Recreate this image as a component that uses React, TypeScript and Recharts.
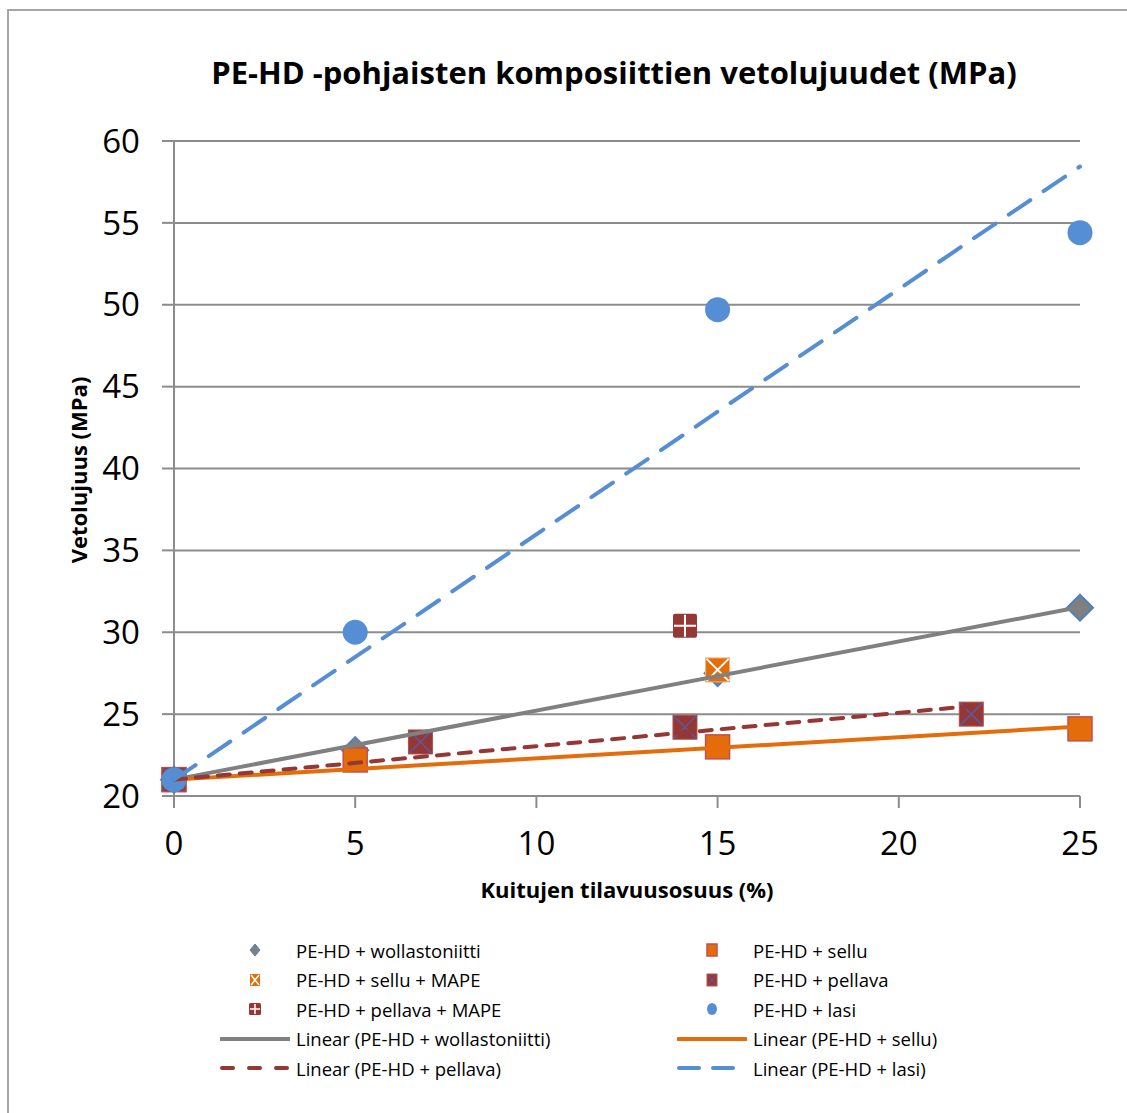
import { ComposedChart, Scatter, XAxis, YAxis, CartesianGrid } from 'recharts';

// fibre volume fraction (%) and tensile strength (MPa) per composite
const wollX = [0, 5, 15, 25];
const wollY = [21, 22.8, 27.5, 31.5];
const selluX = [0, 5, 15, 25];
const selluY = [21, 22.2, 23.0, 24.1];
const selluMapeX = [15];
const selluMapeY = [27.7];
const pellavaX = [0, 6.8, 14.1, 22];
const pellavaY = [21, 23.3, 24.2, 25.0];
const pellavaMapeX = [14.1];
const pellavaMapeY = [30.4];
const lasiX = [0, 5, 15, 25];
const lasiY = [21, 30.0, 49.7, 54.4];

const xTicks = [0, 5, 10, 15, 20, 25];
const yTicks = [20, 25, 30, 35, 40, 45, 50, 55, 60];

const pts = (xs: number[], ys: number[]) => xs.map((x, i) => ({ x, y: ys[i] }));

// Excel-style linear trendline with intercept set to the unfilled PE-HD value
const trend = (xs: number[], ys: number[]) => {
  const b = ys[0];
  let num = 0;
  let den = 0;
  xs.forEach((x, i) => {
    num += x * (ys[i] - b);
    den += x * x;
  });
  const k = num / den;
  const xMax = Math.max(...xs);
  return [
    { x: 0, y: b },
    { x: xMax, y: b + k * xMax },
  ];
};

const GRAY = '#808080';
const ORANGE = '#e46c0a';
const RED = '#953735';
const BLUE = '#558ed5';
const FONT = '"Open Sans", "Liberation Sans", sans-serif';

const Diamond = (p: any) => (
  <polygon
    points={`${p.cx},${p.cy - 13} ${p.cx + 13},${p.cy} ${p.cx},${p.cy + 13} ${p.cx - 13},${p.cy}`}
    fill='#7f7f7f'
    stroke='#4f81bd'
    strokeWidth={2}
  />
);

const SelluSq = (p: any) => (
  <rect x={p.cx - 12} y={p.cy - 12} width={24} height={24} fill={ORANGE} stroke='#c0504d' strokeWidth={1.5} />
);

const SelluMape = (p: any) => (
  <g>
    <rect x={p.cx - 12} y={p.cy - 12} width={24} height={24} fill={ORANGE} stroke='#f5b37a' strokeWidth={1} />
    <path
      d={`M${p.cx - 11},${p.cy - 11}L${p.cx + 11},${p.cy + 11}M${p.cx + 11},${p.cy - 11}L${p.cx - 11},${p.cy + 11}`}
      stroke='#fff'
      strokeWidth={2}
    />
  </g>
);

const PellavaSq = (p: any) => (
  <g>
    <rect x={p.cx - 12} y={p.cy - 12} width={24} height={24} fill={RED} stroke='#b0504d' strokeWidth={1} />
    <path
      d={`M${p.cx - 11},${p.cy - 11}L${p.cx + 11},${p.cy + 11}M${p.cx + 11},${p.cy - 11}L${p.cx - 11},${p.cy + 11}`}
      stroke='#5a5aa0'
      strokeWidth={1.5}
    />
  </g>
);

const PellavaMape = (p: any) => (
  <g>
    <rect x={p.cx - 12} y={p.cy - 12} width={24} height={24} rx={2} fill={RED} />
    <path d={`M${p.cx},${p.cy - 11}V${p.cy + 11}M${p.cx - 11},${p.cy}H${p.cx + 11}`} stroke='#fff' strokeWidth={2} />
  </g>
);

const Dot = (p: any) => <circle cx={p.cx} cy={p.cy} r={12.5} fill={BLUE} />;

const NoMark = () => <g />;

const legendItems = [
  { label: 'PE-HD + wollastoniitti', kind: 'woll' },
  { label: 'PE-HD + sellu', kind: 'sellu' },
  { label: 'PE-HD + sellu + MAPE', kind: 'selluMape' },
  { label: 'PE-HD + pellava', kind: 'pellava' },
  { label: 'PE-HD + pellava + MAPE', kind: 'pellavaMape' },
  { label: 'PE-HD + lasi', kind: 'lasi' },
  { label: 'Linear (PE-HD + wollastoniitti)', kind: 'lWoll' },
  { label: 'Linear (PE-HD + sellu)', kind: 'lSellu' },
  { label: 'Linear (PE-HD + pellava)', kind: 'lPellava' },
  { label: 'Linear (PE-HD + lasi)', kind: 'lLasi' },
];

const LegendIcon = ({ kind }: { kind: string }) => {
  const c = 35;
  const m = 10;
  let g: any = null;
  if (kind === 'woll') g = <polygon points={`${c},${m - 6} ${c + 5},${m} ${c},${m + 6} ${c - 5},${m}`} fill='#7f7f7f' stroke='#4f81bd' strokeWidth={1} />;
  if (kind === 'sellu') g = <rect x={c - 5} y={m - 6} width={10} height={12} fill={ORANGE} stroke='#c0504d' strokeWidth={1.5} />;
  if (kind === 'selluMape')
    g = (
      <g>
        <rect x={c - 5} y={m - 6} width={10} height={12} fill={ORANGE} />
        <path d={`M${c - 4},${m - 5}L${c + 4},${m + 5}M${c + 4},${m - 5}L${c - 4},${m + 5}`} stroke='#fff' strokeWidth={1.5} />
      </g>
    );
  if (kind === 'pellava')
    g = (
      <g>
        <rect x={c - 5} y={m - 6} width={10} height={12} fill={RED} stroke='#c0504d' strokeWidth={1} />
        <path d={`M${c - 4},${m - 5}L${c + 4},${m + 5}M${c + 4},${m - 5}L${c - 4},${m + 5}`} stroke='#5a5aa0' strokeWidth={1} />
      </g>
    );
  if (kind === 'pellavaMape')
    g = (
      <g>
        <rect x={c - 6} y={m - 6} width={12} height={12} rx={1.5} fill={RED} />
        <path d={`M${c},${m - 5}V${m + 5}M${c - 5},${m}H${c + 5}`} stroke='#fff' strokeWidth={1.5} />
      </g>
    );
  if (kind === 'lasi') g = <ellipse cx={c} cy={m} rx={5} ry={6} fill={BLUE} />;
  if (kind === 'lWoll') g = <line x1={1} y1={m} x2={69} y2={m} stroke={GRAY} strokeWidth={4} strokeLinecap='round' />;
  if (kind === 'lSellu') g = <line x1={1} y1={m} x2={69} y2={m} stroke={ORANGE} strokeWidth={4} strokeLinecap='round' />;
  if (kind === 'lPellava')
    g = <line x1={2} y1={m} x2={68} y2={m} stroke={RED} strokeWidth={4} strokeLinecap='round' strokeDasharray='11 16' />;
  if (kind === 'lLasi')
    g = <line x1={2} y1={m} x2={68} y2={m} stroke={BLUE} strokeWidth={4} strokeLinecap='round' strokeDasharray='20 14' />;
  return (
    <svg width={70} height={20} style={{ display: 'block' }}>
      {g}
    </svg>
  );
};

const App = () => {
  return (
    <div style={{ position: 'absolute', left: 0, top: 0, width: 1127, height: 1113, overflow: 'hidden', background: '#fff', fontFamily: FONT }}>
      <div style={{ position: 'absolute', left: 7, top: 9, width: 1140, height: 1120, border: '2px solid #a6a6a6', boxSizing: 'border-box' }} />
      <div
        style={{
          position: 'absolute',
          left: 614,
          top: 72,
          transform: 'translate(-50%, -50%)',
          fontSize: 31,
          fontWeight: 700,
          color: '#000',
          whiteSpace: 'nowrap',
        }}
      >
        PE-HD -pohjaisten komposiittien vetolujuudet (MPa)
      </div>
      <div style={{ position: 'absolute', left: 0, top: 0 }}>
        <ComposedChart width={1127} height={900} margin={{ top: 141, right: 47, left: 94, bottom: 34 }}>
          <CartesianGrid vertical={false} stroke='#8c8c8c' strokeWidth={2} />
          <XAxis
            type='number'
            dataKey='x'
            domain={[0, 25]}
            ticks={xTicks}
            interval={0}
            height={70}
            stroke='#8c8c8c'
            strokeWidth={2}
            tickSize={12}
            tickMargin={24}
            tick={{ fontSize: 33, fill: '#000', fontFamily: FONT }}
          />
          <YAxis
            type='number'
            dataKey='y'
            domain={[20, 60]}
            ticks={yTicks}
            interval={0}
            width={80}
            stroke='#8c8c8c'
            strokeWidth={2}
            tickSize={12}
            tickMargin={22}
            tick={{ fontSize: 33, fill: '#000', fontFamily: FONT }}
          />
          <Scatter name='PE-HD + wollastoniitti' data={pts(wollX, wollY)} shape={Diamond} isAnimationActive={false} />
          <Scatter name='PE-HD + sellu' data={pts(selluX, selluY)} shape={SelluSq} isAnimationActive={false} />
          <Scatter name='PE-HD + sellu + MAPE' data={pts(selluMapeX, selluMapeY)} shape={SelluMape} isAnimationActive={false} />
          <Scatter name='PE-HD + pellava' data={pts(pellavaX, pellavaY)} shape={PellavaSq} isAnimationActive={false} />
          <Scatter name='PE-HD + pellava + MAPE' data={pts(pellavaMapeX, pellavaMapeY)} shape={PellavaMape} isAnimationActive={false} />
          <Scatter name='PE-HD + lasi' data={pts(lasiX, lasiY)} shape={Dot} isAnimationActive={false} />
          <Scatter
            name='Linear (PE-HD + wollastoniitti)'
            data={trend(wollX, wollY)}
            shape={NoMark}
            line={{ stroke: GRAY, strokeWidth: 4 }}
            isAnimationActive={false}
          />
          <Scatter
            name='Linear (PE-HD + sellu)'
            data={trend(selluX, selluY)}
            shape={NoMark}
            line={{ stroke: ORANGE, strokeWidth: 4 }}
            isAnimationActive={false}
          />
          <Scatter
            name='Linear (PE-HD + pellava)'
            data={trend(pellavaX, pellavaY)}
            shape={NoMark}
            line={{ stroke: RED, strokeWidth: 4, strokeDasharray: '12 10', strokeLinecap: 'round' }}
            isAnimationActive={false}
          />
          <Scatter
            name='Linear (PE-HD + lasi)'
            data={trend(lasiX, lasiY)}
            shape={NoMark}
            line={{ stroke: BLUE, strokeWidth: 4, strokeDasharray: '26 16', strokeLinecap: 'round' }}
            isAnimationActive={false}
          />
        </ComposedChart>
      </div>
      <div
        style={{
          position: 'absolute',
          left: 78,
          top: 470,
          transform: 'translate(-50%, -50%) rotate(-90deg)',
          fontSize: 22,
          fontWeight: 700,
          whiteSpace: 'nowrap',
        }}
      >
        Vetolujuus (MPa)
      </div>
      <div
        style={{
          position: 'absolute',
          left: 627,
          top: 889,
          transform: 'translate(-50%, -50%)',
          fontSize: 22,
          fontWeight: 700,
          whiteSpace: 'nowrap',
        }}
      >
        Kuitujen tilavuusosuus (%)
      </div>
      {legendItems.map((it, i) => {
        const col = i % 2;
        const row = Math.floor(i / 2);
        return (
          <div
            key={it.label}
            style={{
              position: 'absolute',
              left: col === 0 ? 220 : 677,
              top: 950 + row * 29.5 - 11,
              height: 22,
              display: 'flex',
              alignItems: 'center',
              fontSize: 18.5,
              color: '#000',
              whiteSpace: 'nowrap',
            }}
          >
            <LegendIcon kind={it.kind} />
            <span style={{ marginLeft: 6 }}>{it.label}</span>
          </div>
        );
      })}
    </div>
  );
};

export default App;
